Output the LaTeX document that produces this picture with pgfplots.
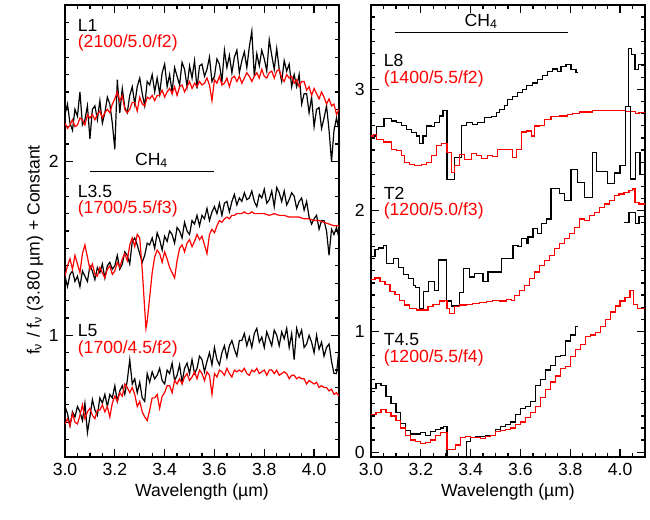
\documentclass[border=0pt]{standalone}
\usepackage{fontspec}
\setmainfont{Liberation Sans}
\usepackage{pgfplots}
\pgfplotsset{compat=1.18}
\pgfplotsset{
  panel/.style={
    scale only axis, width=137pt, height=226pt,
    anchor=south west,
    xmin=3, xmax=4.1,
    xtick={3.0,3.2,3.4,3.6,3.8,4.0},
    xticklabels={3.0,3.2,3.4,3.6,3.8,4.0},
    minor xtick={3.05,3.1,3.15,3.25,3.3,3.35,3.45,3.5,3.55,3.65,3.7,3.75,3.85,3.9,3.95,4.05},
    tick align=inside,
    major tick length=4pt, minor tick length=2pt,
    every tick/.style={black, line width=0.6pt},
    axis line style={line width=0.9pt, black},
    xlabel={Wavelength (µm)},
    every axis x label/.style={at={(axis description cs:0.5,0)}, anchor=center, yshift=-17.5pt},
    /pgf/number format/assume math mode=true,
    clip=true,
  },
  bk/.style={black, line width=0.6pt},
  rd/.style={red, line width=0.6pt},
}
\begin{document}
\fontsize{8.8}{10.5}\selectfont
\begin{tikzpicture}
\useasboundingbox (0,0) rectangle (325pt,260pt);
\node[rotate=90, anchor=center] at (17.5pt,135pt) {f\textsubscript{ν} / f\textsubscript{ν} (3.80 µm) + Constant};
% ---------------- left panel ----------------
\begin{axis}[panel, at={(32.5pt,31.5pt)},
  ymin=0.3, ymax=2.9, ytick={1,2}, yticklabels={1,2},
  minor ytick={0.3,0.4,0.5,0.6,0.7,0.8,0.9,1.1,1.2,1.3,1.4,1.5,1.6,1.7,1.8,1.9,2.1,2.2,2.3,2.4,2.5,2.6,2.7,2.8}]
% L1 black
\addplot[bk] coordinates {(3.00,2.27)(3.01,2.33)(3.02,2.22)(3.03,2.18)(3.04,2.30)(3.05,2.26)(3.06,2.40)(3.07,2.21)(3.08,2.24)(3.09,2.32)(3.10,2.13)(3.11,2.30)(3.12,2.32)(3.13,2.24)(3.14,2.35)(3.15,2.22)(3.16,2.28)(3.17,2.37)(3.18,2.33)(3.19,2.22)(3.20,2.07)(3.21,2.47)(3.22,2.28)(3.23,2.42)(3.24,2.31)(3.25,2.28)(3.26,2.38)(3.27,2.43)(3.28,2.33)(3.29,2.43)(3.30,2.48)(3.31,2.39)(3.32,2.32)(3.33,2.46)(3.34,2.44)(3.35,2.50)(3.36,2.40)(3.37,2.48)(3.38,2.39)(3.39,2.51)(3.40,2.56)(3.41,2.43)(3.42,2.50)(3.43,2.40)(3.44,2.54)(3.45,2.49)(3.46,2.44)(3.47,2.57)(3.48,2.53)(3.49,2.43)(3.50,2.55)(3.51,2.48)(3.52,2.58)(3.53,2.42)(3.54,2.55)(3.55,2.56)(3.56,2.49)(3.57,2.53)(3.58,2.60)(3.59,2.46)(3.60,2.49)(3.61,2.59)(3.62,2.56)(3.63,2.46)(3.64,2.64)(3.65,2.54)(3.66,2.61)(3.67,2.51)(3.68,2.60)(3.69,2.64)(3.70,2.51)(3.71,2.58)(3.72,2.63)(3.73,2.54)(3.74,2.66)(3.75,2.75)(3.76,2.49)(3.77,2.62)(3.78,2.55)(3.79,2.64)(3.80,2.59)(3.81,2.52)(3.82,2.70)(3.83,2.61)(3.84,2.53)(3.85,2.65)(3.86,2.53)(3.87,2.46)(3.88,2.58)(3.89,2.52)(3.90,2.56)(3.91,2.43)(3.92,2.50)(3.93,2.43)(3.94,2.50)(3.95,2.33)(3.96,2.39)(3.97,2.39)(3.98,2.28)(3.99,2.37)(4.00,2.20)(4.01,2.30)(4.02,2.31)(4.03,2.19)(4.04,2.25)(4.05,2.32)(4.06,2.18)(4.07,2.00)(4.08,2.18)(4.09,2.25)(4.10,2.18)};
% L1 red
\addplot[rd] coordinates {(3.00,2.22)(3.01,2.19)(3.02,2.21)(3.03,2.24)(3.04,2.20)(3.05,2.21)(3.06,2.25)(3.07,2.24)(3.08,2.21)(3.09,2.27)(3.10,2.25)(3.11,2.27)(3.12,2.24)(3.13,2.27)(3.14,2.29)(3.15,2.25)(3.16,2.28)(3.17,2.30)(3.18,2.28)(3.19,2.33)(3.20,2.36)(3.21,2.40)(3.22,2.35)(3.23,2.38)(3.24,2.30)(3.25,2.28)(3.26,2.30)(3.27,2.34)(3.28,2.34)(3.29,2.29)(3.30,2.37)(3.31,2.33)(3.32,2.32)(3.33,2.37)(3.34,2.36)(3.35,2.38)(3.36,2.35)(3.37,2.38)(3.38,2.38)(3.39,2.41)(3.40,2.37)(3.41,2.40)(3.42,2.42)(3.43,2.39)(3.44,2.43)(3.45,2.38)(3.46,2.43)(3.47,2.44)(3.48,2.40)(3.49,2.43)(3.50,2.46)(3.51,2.42)(3.52,2.45)(3.53,2.43)(3.54,2.46)(3.55,2.44)(3.56,2.45)(3.57,2.48)(3.58,2.44)(3.59,2.35)(3.60,2.47)(3.61,2.45)(3.62,2.49)(3.63,2.44)(3.64,2.45)(3.65,2.48)(3.66,2.43)(3.67,2.48)(3.68,2.49)(3.69,2.46)(3.70,2.49)(3.71,2.45)(3.72,2.48)(3.73,2.51)(3.74,2.49)(3.75,2.46)(3.76,2.49)(3.77,2.51)(3.78,2.48)(3.79,2.53)(3.80,2.49)(3.81,2.48)(3.82,2.51)(3.83,2.52)(3.84,2.48)(3.85,2.52)(3.86,2.53)(3.87,2.48)(3.88,2.46)(3.89,2.50)(3.90,2.48)(3.91,2.49)(3.92,2.45)(3.93,2.47)(3.94,2.43)(3.95,2.46)(3.96,2.46)(3.97,2.41)(3.98,2.43)(3.99,2.38)(4.00,2.42)(4.01,2.39)(4.02,2.36)(4.03,2.40)(4.04,2.37)(4.05,2.33)(4.06,2.36)(4.07,2.32)(4.08,2.33)(4.09,2.27)(4.10,2.30)};
% L3.5 black
\addplot[bk] coordinates {(3.00,1.34)(3.01,1.28)(3.02,1.35)(3.03,1.37)(3.04,1.31)(3.05,1.34)(3.06,1.28)(3.07,1.37)(3.08,1.34)(3.09,1.31)(3.10,1.40)(3.11,1.37)(3.12,1.32)(3.13,1.39)(3.14,1.36)(3.15,1.41)(3.16,1.33)(3.17,1.40)(3.18,1.42)(3.19,1.38)(3.20,1.40)(3.21,1.46)(3.22,1.38)(3.23,1.41)(3.24,1.48)(3.25,1.46)(3.26,1.41)(3.27,1.54)(3.28,1.56)(3.29,1.52)(3.30,1.47)(3.31,1.42)(3.32,1.46)(3.33,1.53)(3.34,1.52)(3.35,1.56)(3.36,1.50)(3.37,1.59)(3.38,1.55)(3.39,1.49)(3.40,1.57)(3.41,1.54)(3.42,1.60)(3.43,1.58)(3.44,1.53)(3.45,1.62)(3.46,1.60)(3.47,1.56)(3.48,1.65)(3.49,1.60)(3.50,1.58)(3.51,1.66)(3.52,1.64)(3.53,1.69)(3.54,1.63)(3.55,1.69)(3.56,1.67)(3.57,1.73)(3.58,1.66)(3.59,1.71)(3.60,1.74)(3.61,1.70)(3.62,1.76)(3.63,1.69)(3.64,1.76)(3.65,1.77)(3.66,1.71)(3.67,1.77)(3.68,1.81)(3.69,1.75)(3.70,1.79)(3.71,1.77)(3.72,1.82)(3.73,1.78)(3.74,1.79)(3.75,1.83)(3.76,1.77)(3.77,1.74)(3.78,1.81)(3.79,1.79)(3.80,1.84)(3.81,1.76)(3.82,1.78)(3.83,1.83)(3.84,1.74)(3.85,1.85)(3.86,1.82)(3.87,1.77)(3.88,1.83)(3.89,1.75)(3.90,1.78)(3.91,1.82)(3.92,1.80)(3.93,1.73)(3.94,1.77)(3.95,1.79)(3.96,1.72)(3.97,1.77)(3.98,1.68)(3.99,1.64)(4.00,1.67)(4.01,1.69)(4.02,1.61)(4.03,1.66)(4.04,1.66)(4.05,1.60)(4.06,1.46)(4.07,1.61)(4.08,1.58)(4.09,1.62)(4.10,1.56)};
% L3.5 red
\addplot[rd] coordinates {(3.00,1.34)(3.01,1.40)(3.02,1.44)(3.03,1.38)(3.04,1.46)(3.05,1.41)(3.06,1.36)(3.07,1.47)(3.08,1.52)(3.09,1.45)(3.10,1.38)(3.11,1.41)(3.12,1.35)(3.13,1.34)(3.14,1.39)(3.15,1.36)(3.16,1.33)(3.17,1.38)(3.18,1.40)(3.19,1.35)(3.20,1.37)(3.21,1.42)(3.22,1.39)(3.23,1.44)(3.24,1.47)(3.25,1.43)(3.26,1.52)(3.27,1.56)(3.28,1.51)(3.29,1.58)(3.30,1.56)(3.31,1.38)(3.32,1.15)(3.325,1.04)(3.33,1.08)(3.34,1.22)(3.35,1.36)(3.36,1.45)(3.37,1.49)(3.38,1.47)(3.39,1.42)(3.40,1.48)(3.41,1.44)(3.42,1.39)(3.43,1.36)(3.44,1.33)(3.45,1.43)(3.46,1.50)(3.47,1.52)(3.48,1.48)(3.49,1.53)(3.50,1.55)(3.51,1.51)(3.52,1.54)(3.53,1.58)(3.54,1.55)(3.55,1.57)(3.56,1.52)(3.57,1.47)(3.58,1.58)(3.59,1.61)(3.60,1.59)(3.61,1.63)(3.62,1.66)(3.63,1.65)(3.64,1.67)(3.65,1.68)(3.66,1.67)(3.67,1.69)(3.68,1.69)(3.69,1.70)(3.70,1.70)(3.71,1.70)(3.72,1.71)(3.73,1.70)(3.74,1.70)(3.75,1.71)(3.76,1.70)(3.77,1.70)(3.78,1.70)(3.79,1.70)(3.80,1.70)(3.82,1.69)(3.84,1.70)(3.86,1.69)(3.88,1.69)(3.90,1.68)(3.92,1.68)(3.94,1.68)(3.96,1.67)(3.98,1.67)(4.00,1.66)(4.02,1.66)(4.04,1.65)(4.06,1.64)(4.08,1.63)(4.10,1.63)};
% L5 black
\addplot[bk] coordinates {(3.00,0.59)(3.01,0.55)(3.02,0.48)(3.03,0.56)(3.04,0.53)(3.05,0.59)(3.06,0.56)(3.07,0.51)(3.08,0.61)(3.09,0.44)(3.10,0.53)(3.11,0.63)(3.12,0.57)(3.13,0.54)(3.14,0.64)(3.15,0.61)(3.16,0.66)(3.17,0.59)(3.18,0.66)(3.19,0.64)(3.20,0.71)(3.21,0.62)(3.22,0.68)(3.23,0.71)(3.24,0.66)(3.25,0.74)(3.26,0.86)(3.27,0.72)(3.28,0.75)(3.29,0.67)(3.30,0.73)(3.31,0.64)(3.32,0.62)(3.33,0.78)(3.34,0.73)(3.35,0.79)(3.36,0.75)(3.37,0.77)(3.38,0.81)(3.39,0.74)(3.40,0.72)(3.41,0.80)(3.42,0.78)(3.43,0.84)(3.44,0.74)(3.45,0.77)(3.46,0.83)(3.47,0.73)(3.48,0.81)(3.49,0.84)(3.50,0.78)(3.51,0.86)(3.52,0.78)(3.53,0.81)(3.54,0.88)(3.55,0.86)(3.56,0.79)(3.57,0.85)(3.58,0.90)(3.59,0.83)(3.60,0.93)(3.61,0.86)(3.62,0.83)(3.63,0.90)(3.64,0.94)(3.65,0.87)(3.66,0.94)(3.67,0.97)(3.68,0.92)(3.69,0.88)(3.70,0.97)(3.71,0.97)(3.72,1.01)(3.73,0.94)(3.74,0.99)(3.75,0.93)(3.76,1.01)(3.77,1.04)(3.78,0.96)(3.79,0.99)(3.80,0.93)(3.81,1.02)(3.82,0.98)(3.83,0.94)(3.84,1.03)(3.85,1.00)(3.86,0.94)(3.87,1.02)(3.88,0.98)(3.89,1.04)(3.90,0.93)(3.91,1.01)(3.92,0.86)(3.93,1.04)(3.94,0.99)(3.95,1.03)(3.96,0.93)(3.97,0.95)(3.98,1.00)(3.99,0.96)(4.00,0.90)(4.01,1.00)(4.02,0.92)(4.03,0.96)(4.04,0.88)(4.05,0.93)(4.06,0.95)(4.07,0.85)(4.08,0.78)(4.09,0.78)(4.10,0.92)};
% L5 red
\addplot[rd] coordinates {(3.00,0.49)(3.01,0.52)(3.02,0.48)(3.03,0.55)(3.04,0.50)(3.05,0.49)(3.06,0.54)(3.07,0.60)(3.08,0.52)(3.09,0.56)(3.10,0.58)(3.11,0.54)(3.12,0.52)(3.13,0.57)(3.14,0.57)(3.15,0.60)(3.16,0.56)(3.17,0.59)(3.18,0.53)(3.19,0.61)(3.20,0.65)(3.21,0.62)(3.22,0.67)(3.23,0.65)(3.24,0.72)(3.25,0.70)(3.26,0.67)(3.27,0.70)(3.28,0.66)(3.29,0.59)(3.30,0.62)(3.31,0.56)(3.32,0.53)(3.33,0.51)(3.34,0.57)(3.35,0.64)(3.36,0.64)(3.37,0.66)(3.38,0.58)(3.39,0.65)(3.40,0.67)(3.41,0.71)(3.42,0.71)(3.43,0.67)(3.44,0.74)(3.45,0.72)(3.46,0.75)(3.47,0.72)(3.48,0.76)(3.49,0.78)(3.50,0.74)(3.51,0.76)(3.52,0.79)(3.53,0.75)(3.54,0.80)(3.55,0.78)(3.56,0.74)(3.57,0.79)(3.58,0.77)(3.59,0.66)(3.60,0.78)(3.61,0.76)(3.62,0.80)(3.63,0.79)(3.64,0.77)(3.65,0.81)(3.66,0.78)(3.67,0.76)(3.68,0.80)(3.69,0.79)(3.70,0.80)(3.71,0.79)(3.72,0.81)(3.73,0.78)(3.74,0.77)(3.75,0.80)(3.76,0.79)(3.77,0.81)(3.78,0.78)(3.79,0.79)(3.80,0.80)(3.81,0.77)(3.82,0.80)(3.83,0.80)(3.84,0.78)(3.85,0.80)(3.86,0.77)(3.87,0.78)(3.88,0.79)(3.89,0.78)(3.90,0.75)(3.91,0.77)(3.92,0.77)(3.93,0.75)(3.94,0.76)(3.95,0.75)(3.96,0.75)(3.97,0.72)(3.98,0.74)(3.99,0.73)(4.00,0.72)(4.01,0.73)(4.02,0.70)(4.03,0.71)(4.04,0.70)(4.05,0.70)(4.06,0.68)(4.07,0.69)(4.08,0.66)(4.09,0.67)(4.10,0.65)};
\draw[line width=0.6pt] (axis cs:3.1,1.944) -- (axis cs:3.6,1.944);
\node at (axis cs:3.348,2.006) {CH\textsubscript{4}};
\node[anchor=west, inner sep=0pt] at (axis cs:3.05,2.782) {L1};
\node[anchor=west, inner sep=0pt, red] at (axis cs:3.05,2.679) {(2100/5.0/f2)};
\node[anchor=west, inner sep=0pt] at (axis cs:3.05,1.830) {L3.5};
\node[anchor=west, inner sep=0pt, red] at (axis cs:3.05,1.727) {(1700/5.5/f3)};
\node[anchor=west, inner sep=0pt] at (axis cs:3.05,1.025) {L5};
\node[anchor=west, inner sep=0pt, red] at (axis cs:3.05,0.922) {(1700/4.5/f2)};
\end{axis}
% ---------------- right panel ----------------
\begin{axis}[panel, at={(185.5pt,31.5pt)},
  ymin=-0.04, ymax=3.70, ytick={0,1,2,3}, yticklabels={0,1,2,3},
  minor ytick={0.1,0.2,0.3,0.4,0.5,0.6,0.7,0.8,0.9,1.1,1.2,1.3,1.4,1.5,1.6,1.7,1.8,1.9,2.1,2.2,2.3,2.4,2.5,2.6,2.7,2.8,2.9,3.1,3.2,3.3,3.4,3.5,3.6}]
% L8 black
\addplot[bk, const plot] coordinates {(3.000,2.616)(3.023,2.693)(3.052,2.759)(3.083,2.740)(3.103,2.726)(3.123,2.704)(3.143,2.671)(3.163,2.644)(3.183,2.616)(3.196,2.556)(3.209,2.616)(3.223,2.699)(3.243,2.693)(3.256,2.726)(3.276,2.781)(3.289,2.830)(3.305,2.254)(3.336,2.438)(3.363,2.704)(3.383,2.726)(3.409,2.712)(3.429,2.731)(3.456,2.767)(3.483,2.775)(3.503,2.808)(3.516,2.836)(3.536,2.869)(3.549,2.918)(3.569,2.945)(3.589,2.973)(3.609,3.000)(3.623,3.033)(3.649,3.055)(3.669,3.083)(3.689,3.115)(3.709,3.151)(3.729,3.170)(3.749,3.151)(3.763,3.192)(3.783,3.206)(3.803,3.165)(3.823,3.143)(3.830,3.143)};
\addplot[bk, const plot] coordinates {(4.029,2.86)(4.033,3.343)(4.047,3.288)(4.060,3.165)(4.073,3.206)(4.100,3.206)};
% L8 red
\addplot[rd, const plot] coordinates {(3.000,2.616)(3.009,2.630)(3.023,2.589)(3.049,2.567)(3.083,2.506)(3.103,2.493)(3.123,2.452)(3.136,2.397)(3.156,2.383)(3.176,2.369)(3.203,2.383)(3.223,2.397)(3.243,2.452)(3.263,2.539)(3.283,2.556)(3.305,2.479)(3.323,2.314)(3.336,2.369)(3.356,2.465)(3.376,2.424)(3.403,2.474)(3.423,2.457)(3.443,2.430)(3.469,2.452)(3.489,2.446)(3.509,2.506)(3.549,2.501)(3.569,2.438)(3.583,2.506)(3.603,2.649)(3.623,2.657)(3.643,2.616)(3.656,2.699)(3.676,2.704)(3.696,2.753)(3.723,2.775)(3.756,2.781)(3.789,2.795)(3.809,2.800)(3.836,2.814)(3.889,2.827)(3.969,2.825)(4.023,2.822)(4.063,2.800)(4.076,2.808)(4.100,2.808)};
% T2 black
\addplot[bk, const plot] coordinates {(3.000,1.62)(3.016,1.68)(3.030,1.69)(3.050,1.71)(3.063,1.56)(3.090,1.60)(3.110,1.53)(3.130,1.47)(3.150,1.44)(3.170,1.38)(3.180,1.36)(3.196,1.19)(3.210,1.33)(3.230,1.41)(3.256,1.34)(3.270,1.59)(3.303,1.25)(3.323,1.21)(3.356,1.32)(3.370,1.52)(3.396,1.45)(3.416,1.48)(3.450,1.41)(3.470,1.49)(3.523,1.60)(3.570,1.71)(3.590,1.70)(3.603,1.77)(3.623,1.73)(3.630,1.78)(3.650,1.85)(3.670,1.81)(3.683,1.89)(3.703,1.93)(3.723,2.18)(3.756,2.14)(3.776,2.08)(3.803,2.34)(3.830,2.23)(3.856,2.11)(3.890,2.48)(3.906,2.32)(3.950,2.22)(3.976,2.31)(4.000,2.37)(4.023,2.86)(4.043,2.26)(4.063,2.48)(4.080,2.30)(4.100,2.30)};
\addplot[bk, const plot] coordinates {(4.016,1.90)(4.036,1.985)(4.063,1.89)(4.076,1.95)(4.100,1.95)};
% T2 red
\addplot[rd, const plot] coordinates {(3.000,1.431)(3.016,1.441)(3.036,1.414)(3.056,1.387)(3.076,1.332)(3.096,1.305)(3.116,1.258)(3.136,1.217)(3.156,1.189)(3.183,1.176)(3.209,1.176)(3.229,1.203)(3.249,1.222)(3.276,1.250)(3.296,1.258)(3.305,1.189)(3.316,1.148)(3.336,1.203)(3.356,1.217)(3.383,1.222)(3.409,1.231)(3.436,1.239)(3.463,1.244)(3.489,1.258)(3.516,1.250)(3.543,1.266)(3.563,1.258)(3.576,1.299)(3.596,1.340)(3.616,1.381)(3.636,1.436)(3.656,1.491)(3.676,1.546)(3.696,1.587)(3.716,1.628)(3.736,1.683)(3.756,1.724)(3.776,1.766)(3.796,1.807)(3.816,1.862)(3.836,1.930)(3.856,1.917)(3.876,1.958)(3.896,1.985)(3.916,2.026)(3.936,2.054)(3.956,2.081)(3.976,2.122)(3.996,2.136)(4.016,2.150)(4.036,2.163)(4.049,2.177)(4.060,2.067)(4.076,2.054)(4.100,2.054)};
% T4.5 black
\addplot[bk, const plot] coordinates {(3.00,0.53)(3.02,0.57)(3.04,0.55)(3.06,0.46)(3.08,0.40)(3.10,0.33)(3.12,0.24)(3.14,0.18)(3.16,0.15)(3.18,0.15)(3.20,0.16)(3.22,0.14)(3.24,0.17)(3.26,0.19)(3.28,0.20)(3.29,0.21)(3.305,-0.3)(3.383,0.09)(3.40,0.12)(3.42,0.13)(3.44,0.13)(3.46,0.14)(3.48,0.14)(3.50,0.19)(3.52,0.21)(3.54,0.23)(3.56,0.25)(3.58,0.31)(3.60,0.36)(3.62,0.38)(3.64,0.42)(3.66,0.55)(3.68,0.60)(3.70,0.68)(3.72,0.72)(3.74,0.79)(3.76,0.80)(3.78,0.92)(3.80,0.97)(3.82,1.04)(3.83,1.04)};
% T4.5 red
\addplot[rd, const plot] coordinates {(3.00,0.31)(3.02,0.33)(3.04,0.35)(3.06,0.33)(3.08,0.30)(3.10,0.26)(3.12,0.20)(3.14,0.14)(3.16,0.10)(3.18,0.09)(3.20,0.07)(3.22,0.08)(3.24,0.10)(3.26,0.14)(3.28,0.16)(3.305,0.02)(3.32,0.02)(3.34,0.06)(3.36,0.12)(3.38,0.13)(3.40,0.12)(3.42,0.12)(3.44,0.11)(3.46,0.13)(3.48,0.14)(3.50,0.17)(3.52,0.18)(3.54,0.19)(3.56,0.20)(3.58,0.23)(3.60,0.25)(3.62,0.29)(3.64,0.33)(3.66,0.38)(3.68,0.45)(3.70,0.52)(3.72,0.58)(3.74,0.63)(3.76,0.69)(3.78,0.71)(3.80,0.79)(3.82,0.85)(3.84,0.89)(3.86,0.96)(3.88,0.97)(3.90,0.99)(3.92,1.04)(3.94,1.10)(3.96,1.16)(3.98,1.21)(4.00,1.25)(4.02,1.28)(4.04,1.34)(4.055,1.22)(4.07,1.19)(4.10,1.19)};
\draw[line width=0.6pt] (axis cs:3.096,3.472) -- (axis cs:3.789,3.472);
\node at (axis cs:3.443,3.562) {CH\textsubscript{4}};
\node[anchor=west, inner sep=0pt] at (axis cs:3.05,3.240) {L8};
\node[anchor=west, inner sep=0pt, red] at (axis cs:3.05,3.092) {(1400/5.5/f2)};
\node[anchor=west, inner sep=0pt] at (axis cs:3.05,2.143) {T2};
\node[anchor=west, inner sep=0pt, red] at (axis cs:3.05,1.995) {(1200/5.0/f3)};
\node[anchor=west, inner sep=0pt] at (axis cs:3.05,0.930) {T4.5};
\node[anchor=west, inner sep=0pt, red] at (axis cs:3.05,0.782) {(1200/5.5/f4)};
\end{axis}
\end{tikzpicture}
\end{document}
